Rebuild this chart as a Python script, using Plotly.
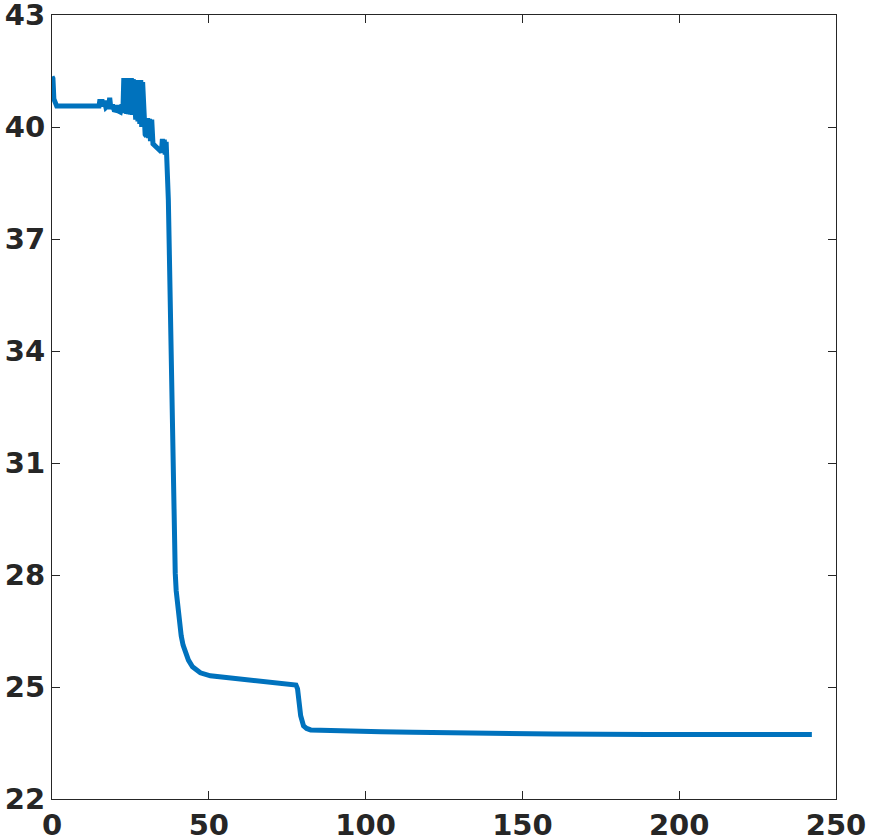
import plotly.graph_objects as go

# ---- data ----
x_vals = [0.0, 0.3, 0.6, 1.0, 1.5, 5.0, 10.0, 15.0,
          15.3, 15.6, 15.9, 16.3, 16.7, 17.2, 17.6, 18.0, 18.4, 18.8, 19.3, 19.8,
          20.3, 20.8, 21.3, 21.8, 22.3, 22.6, 22.9, 23.2, 23.5, 23.8, 24.1, 24.4,
          24.7, 25.0, 25.3, 25.6, 25.9, 26.3, 26.7, 27.1, 27.4, 27.7, 28.0, 28.3,
          28.6, 28.9, 29.3, 29.7, 30.1, 30.5, 30.8, 31.1, 31.4, 31.8, 32.2, 32.7,
          33.2, 33.8, 34.4, 34.9, 35.2, 35.5, 35.8, 36.1, 36.4,
          36.7, 37.1, 37.4, 37.7, 38.0, 38.4, 38.7, 39.0, 39.3, 39.6, 40.0, 40.3,
          40.7, 41.2, 41.8, 42.5, 43.5, 44.8, 46.0, 47.3, 50.5, 55.0, 63.3, 70.0,
          77.0, 77.8, 78.3, 78.7, 79.3, 80.2, 81.2,
          82.5, 88.9, 95.0, 104.9, 115.0, 130.4, 143.2, 160.0, 190.0, 220.0, 242.3]
y_vals = [41.35, 41.30, 40.75, 40.60, 40.56, 40.56, 40.56, 40.56,
          40.74, 40.56, 40.74, 40.55, 40.70, 40.52, 40.55, 40.50, 40.78, 40.48, 40.60, 40.46,
          40.45, 40.58, 40.42, 40.40, 40.60, 40.38, 41.31, 40.37, 41.30, 40.35, 41.31, 40.34,
          40.80, 40.33, 41.31, 40.32, 41.28, 40.22, 40.20, 41.26, 40.15, 40.70, 40.08, 41.26,
          40.00, 41.20, 39.87, 39.80, 39.75, 40.24, 39.70, 40.22, 39.62, 40.20, 39.55, 39.50,
          39.45, 39.40, 39.36, 39.33, 39.68, 39.30, 39.66, 39.26, 39.60,
          39.10, 38.04, 36.70, 35.36, 32.68, 31.33, 29.99, 28.65, 28.05, 27.58, 27.20, 26.91,
          26.62, 26.37, 26.12, 25.92, 25.72, 25.54, 25.45, 25.38, 25.30, 25.26, 25.19, 25.13,
          25.09, 25.05, 24.95, 24.63, 24.23, 23.96, 23.89,
          23.85, 23.83, 23.81, 23.80, 23.79, 23.77, 23.75, 23.74, 23.73, 23.73, 23.73]

x_ticks = [0, 50, 100, 150, 200, 250]
y_ticks = [22, 25, 28, 31, 34, 37, 40, 43]

fig = go.Figure()
fig.add_trace(go.Scatter(x=x_vals, y=y_vals, mode="lines",
                         line=dict(color="#0072BD", width=5),
                         showlegend=False, hoverinfo="skip"))

axis_common = dict(showgrid=False, zeroline=False, showline=True, linecolor="#262626",
                   linewidth=1.2, mirror="ticks", ticks="inside", ticklen=8,
                   tickcolor="#262626", tickwidth=1.2, automargin=False,
                   ticklabeloverflow="allow",
                   tickfont=dict(family="DejaVu Sans", size=29, color="#262626",
                                 weight="bold"))

fig.update_xaxes(range=[0, 250], tickvals=x_ticks, ticktext=[str(v) for v in x_ticks],
                 ticklabelstandoff=0, **axis_common)
fig.update_yaxes(range=[22, 43], tickvals=y_ticks, ticktext=[str(v) for v in y_ticks],
                 ticklabelstandoff=0, **axis_common)

fig.update_layout(width=872, height=840, paper_bgcolor="white", plot_bgcolor="white",
                  margin=dict(l=52, r=36, t=15, b=41), autosize=False)

fig.write_html("out.html", config={"displayModeBar": False},
               post_script="document.body.style.margin='0';document.body.style.padding='0';"
                           "document.body.style.overflow='hidden';")
